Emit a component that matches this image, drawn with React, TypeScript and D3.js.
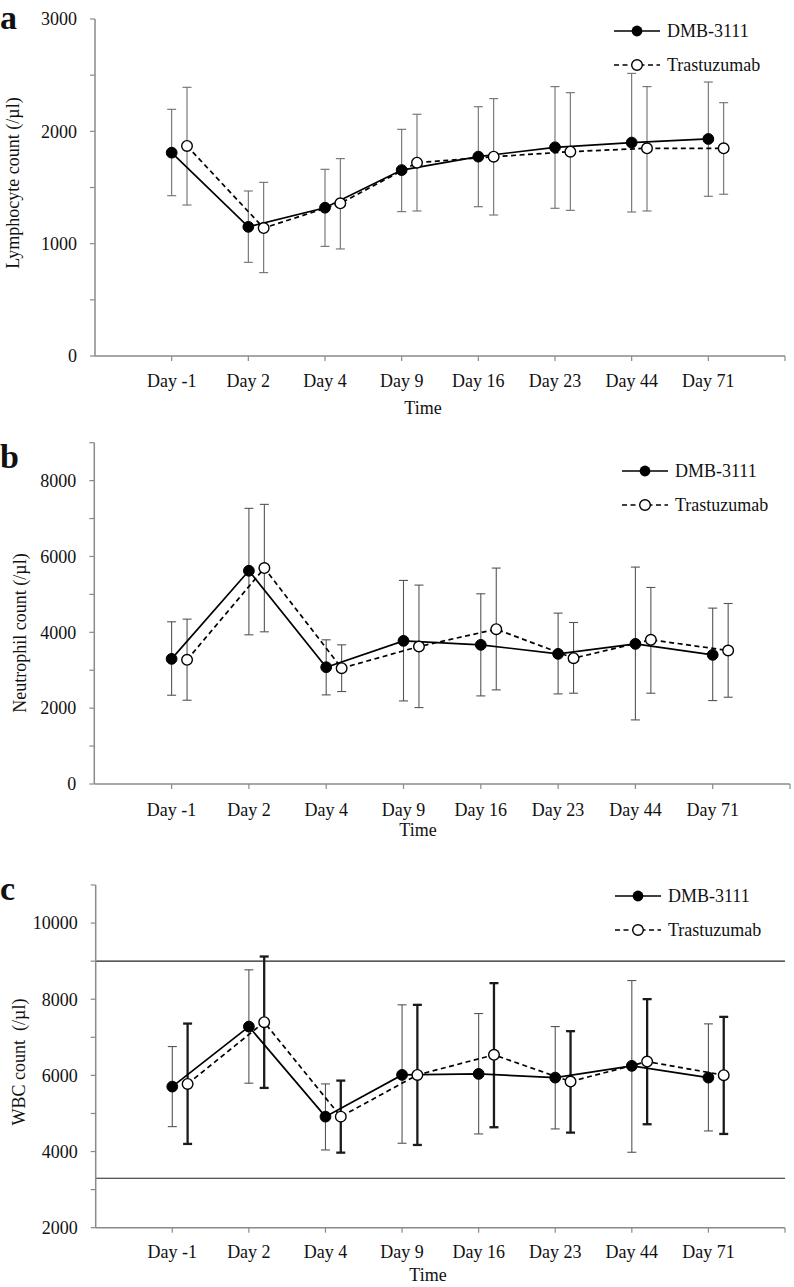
import React from "react";
import * as d3 from "d3";

const categories = ["Day -1", "Day 2", "Day 4", "Day 9", "Day 16", "Day 23", "Day 44", "Day 71"];
const seriesNames = ["DMB-3111", "Trastuzumab"];

// Panel a: Lymphocyte
const lymphDMB = [1810, 1150, 1320, 1655, 1775, 1858, 1900, 1932];
const lymphDMBHi = [2196, 1469, 1662, 2018, 2219, 2398, 2516, 2439];
const lymphDMBLo = [1427, 834, 976, 1285, 1329, 1315, 1282, 1422];
const lymphTra = [1870, 1139, 1359, 1721, 1774, 1819, 1849, 1849];
const lymphTraHi = [2392, 1546, 1757, 2152, 2291, 2344, 2398, 2255];
const lymphTraLo = [1344, 742, 953, 1291, 1255, 1297, 1291, 1440];

// Panel b: Neutrophil
const neutDMB = [3300, 5623, 3080, 3775, 3670, 3432, 3696, 3406];
const neutDMBHi = [4277, 7269, 3802, 5368, 5016, 4506, 5720, 4638];
const neutDMBLo = [2341, 3934, 2350, 2191, 2323, 2376, 1690, 2200];
const neutTra = [3274, 5694, 3054, 3626, 4083, 3317, 3802, 3520];
const neutTraHi = [4348, 7374, 3670, 5245, 5694, 4259, 5183, 4760];
const neutTraLo = [2209, 4013, 2438, 2015, 2482, 2394, 2394, 2288];

// Panel c: WBC
const wbcDMB = [5706, 7282, 4917, 6013, 6039, 5942, 6250, 5942];
const wbcDMBHi = [6757, 8772, 5776, 7853, 7624, 7282, 8491, 7353];
const wbcDMBLo = [4654, 5795, 4042, 4218, 4462, 4594, 3981, 4541];
const wbcTra = [5776, 7398, 4917, 6013, 6539, 5837, 6363, 6005];
const wbcTraHi = [7361, 9122, 5863, 7853, 8423, 7161, 8003, 7537];
const wbcTraLo = [4200, 5671, 3971, 4173, 4638, 4497, 4717, 4462];
const wbcRefLines = [9000, 3300];

const FONT = "'Liberation Serif', 'Times New Roman', 'DejaVu Serif', serif";

type PanelProps = {
  letter: string;
  letterY: number;
  yLabel: string;
  yLabelX: number;
  yLabelY: number;
  x0: number;
  x1: number;
  yTop: number;
  yBot: number;
  domain: [number, number];
  minorStep: number;
  labelStep: number;
  dmb: number[];
  dmbHi: number[];
  dmbLo: number[];
  tra: number[];
  traHi: number[];
  traLo: number[];
  catLabelY: number;
  timeX: number;
  timeY: number;
  legX: number;
  legY: number;
  refLines?: number[];
  thickTraBars?: boolean;
  barColor: string;
};

function Panel(p: PanelProps) {
  const x = d3.scaleLinear().domain([0, 9]).range([p.x0, p.x1]);
  const y = d3.scaleLinear().domain(p.domain).range([p.yBot, p.yTop]);
  const offset = 0.2;
  const ticks = d3.range(p.domain[0], p.domain[1] + 1, p.minorStep);
  const line = d3
    .line<number>()
    .x((_, i) => x(i + 1))
    .y((d) => y(d));
  const lineT = d3
    .line<number>()
    .x((_, i) => x(i + 1 + offset))
    .y((d) => y(d));
  const cap = 4.5;

  const bars = (vals: number[], hi: number[], lo: number[], off: number, thick: boolean) =>
    vals.map((_, i) => {
      const cx = x(i + 1 + off);
      const col = thick ? "#1a1a1a" : p.barColor;
      const sw = thick ? 2.3 : 1.1;
      return (
        <g key={i} stroke={col} strokeWidth={sw}>
          <line x1={cx} x2={cx} y1={y(hi[i])} y2={y(lo[i])} />
          <line x1={cx - cap} x2={cx + cap} y1={y(hi[i])} y2={y(hi[i])} />
          <line x1={cx - cap} x2={cx + cap} y1={y(lo[i])} y2={y(lo[i])} />
        </g>
      );
    });

  return (
    <g fontFamily={FONT} style={{ fontFamily: FONT }} fill="#111">
      <text x={0} y={p.letterY} fontSize={34} fontWeight="bold">
        {p.letter}
      </text>
      {(p.refLines || []).map((v, i) => (
        <line key={i} x1={p.x0} x2={p.x1} y1={y(v)} y2={y(v)} stroke="#222" strokeWidth={1.1} />
      ))}
      <line x1={p.x0} x2={p.x0} y1={p.yTop} y2={p.yBot} stroke="#8a8a8a" strokeWidth={1.5} />
      {ticks.map((t) => (
        <g key={t}>
          <line x1={p.x0 - 5} x2={p.x0} y1={y(t)} y2={y(t)} stroke="#8a8a8a" strokeWidth={1.2} />
          {t % p.labelStep === 0 ? (
            <text x={p.x0 - 18} y={y(t)} dy="0.35em" textAnchor="end" fontSize={18}>
              {t}
            </text>
          ) : null}
        </g>
      ))}
      <text
        transform={`translate(${p.yLabelX},${p.yLabelY}) rotate(-90)`}
        textAnchor="middle"
        dominantBaseline="central"
        fontSize={18}
        style={{ whiteSpace: "pre" }}
      >
        {p.yLabel}
      </text>
      <line x1={p.x0} x2={p.x1} y1={p.yBot} y2={p.yBot} stroke="#8a8a8a" strokeWidth={1.5} />
      {d3.range(1, 10).map((i) => (
        <line key={i} x1={x(i)} x2={x(i)} y1={p.yBot} y2={p.yBot + 5} stroke="#8a8a8a" strokeWidth={1.2} />
      ))}
      {categories.map((c, i) => (
        <text key={c} x={x(i + 1)} y={p.catLabelY} textAnchor="middle" fontSize={18}>
          {c}
        </text>
      ))}
      <text x={p.timeX} y={p.timeY} textAnchor="middle" fontSize={18}>
        Time
      </text>
      {bars(p.dmb, p.dmbHi, p.dmbLo, 0, false)}
      {bars(p.tra, p.traHi, p.traLo, offset, !!p.thickTraBars)}
      <path d={line(p.dmb) || ""} fill="none" stroke="#000" strokeWidth={1.7} />
      <path d={lineT(p.tra) || ""} fill="none" stroke="#000" strokeWidth={1.7} strokeDasharray="5,3.5" />
      {p.dmb.map((v, i) => (
        <circle key={"d" + i} cx={x(i + 1)} cy={y(v)} r={5.4} fill="#000" stroke="#000" strokeWidth={1} />
      ))}
      {p.tra.map((v, i) => (
        <circle key={"t" + i} cx={x(i + 1 + offset)} cy={y(v)} r={5.3} fill="#fff" stroke="#000" strokeWidth={1.4} />
      ))}
      <g>
        <line x1={p.legX} x2={p.legX + 46} y1={p.legY} y2={p.legY} stroke="#000" strokeWidth={1.7} />
        <circle cx={p.legX + 23} cy={p.legY} r={5.4} fill="#000" />
        <text x={p.legX + 53} y={p.legY} dy="0.35em" fontSize={18}>
          {seriesNames[0]}
        </text>
        <line
          x1={p.legX}
          x2={p.legX + 46}
          y1={p.legY + 34}
          y2={p.legY + 34}
          stroke="#000"
          strokeWidth={1.7}
          strokeDasharray="5,3.5"
        />
        <circle cx={p.legX + 23} cy={p.legY + 34} r={5.3} fill="#fff" stroke="#000" strokeWidth={1.4} />
        <text x={p.legX + 53} y={p.legY + 34} dy="0.35em" fontSize={18}>
          {seriesNames[1]}
        </text>
      </g>
    </g>
  );
}

export default function App() {
  return (
    <div style={{ position: "absolute", left: 0, top: 0, background: "#fff" }}>
      <svg width={794} height={1287} viewBox="0 0 794 1287">
        <rect width={794} height={1287} fill="#fff" />
        <Panel
          letter="a"
          letterY={29}
          yLabel="Lymphocyte count (/µl)"
          yLabelX={13}
          yLabelY={183}
          x0={95}
          x1={785}
          yTop={19}
          yBot={356}
          domain={[0, 3000]}
          minorStep={500}
          labelStep={1000}
          dmb={lymphDMB}
          dmbHi={lymphDMBHi}
          dmbLo={lymphDMBLo}
          tra={lymphTra}
          traHi={lymphTraHi}
          traLo={lymphTraLo}
          catLabelY={386.5}
          timeX={423}
          timeY={414}
          legX={614}
          legY={31}
          barColor="#6e6e6e"
        />
        <Panel
          letter="b"
          letterY={468}
          yLabel="Neutrophil count (/µl)"
          yLabelX={20}
          yLabelY={633}
          x0={94.3}
          x1={790}
          yTop={442.7}
          yBot={784}
          domain={[0, 9000]}
          minorStep={1000}
          labelStep={2000}
          dmb={neutDMB}
          dmbHi={neutDMBHi}
          dmbLo={neutDMBLo}
          tra={neutTra}
          traHi={neutTraHi}
          traLo={neutTraLo}
          catLabelY={816}
          timeX={418}
          timeY={836}
          legX={622}
          legY={471}
          barColor="#555"
        />
        <Panel
          letter="c"
          letterY={900}
          yLabel="WBC count  (/µl)"
          yLabelX={19}
          yLabelY={1062}
          x0={95.7}
          x1={785}
          yTop={885}
          yBot={1227.7}
          domain={[2000, 11000]}
          minorStep={1000}
          labelStep={2000}
          dmb={wbcDMB}
          dmbHi={wbcDMBHi}
          dmbLo={wbcDMBLo}
          tra={wbcTra}
          traHi={wbcTraHi}
          traLo={wbcTraLo}
          catLabelY={1258}
          timeX={428}
          timeY={1281}
          legX={615}
          legY={896}
          refLines={wbcRefLines}
          thickTraBars={true}
          barColor="#555"
        />
      </svg>
    </div>
  );
}
